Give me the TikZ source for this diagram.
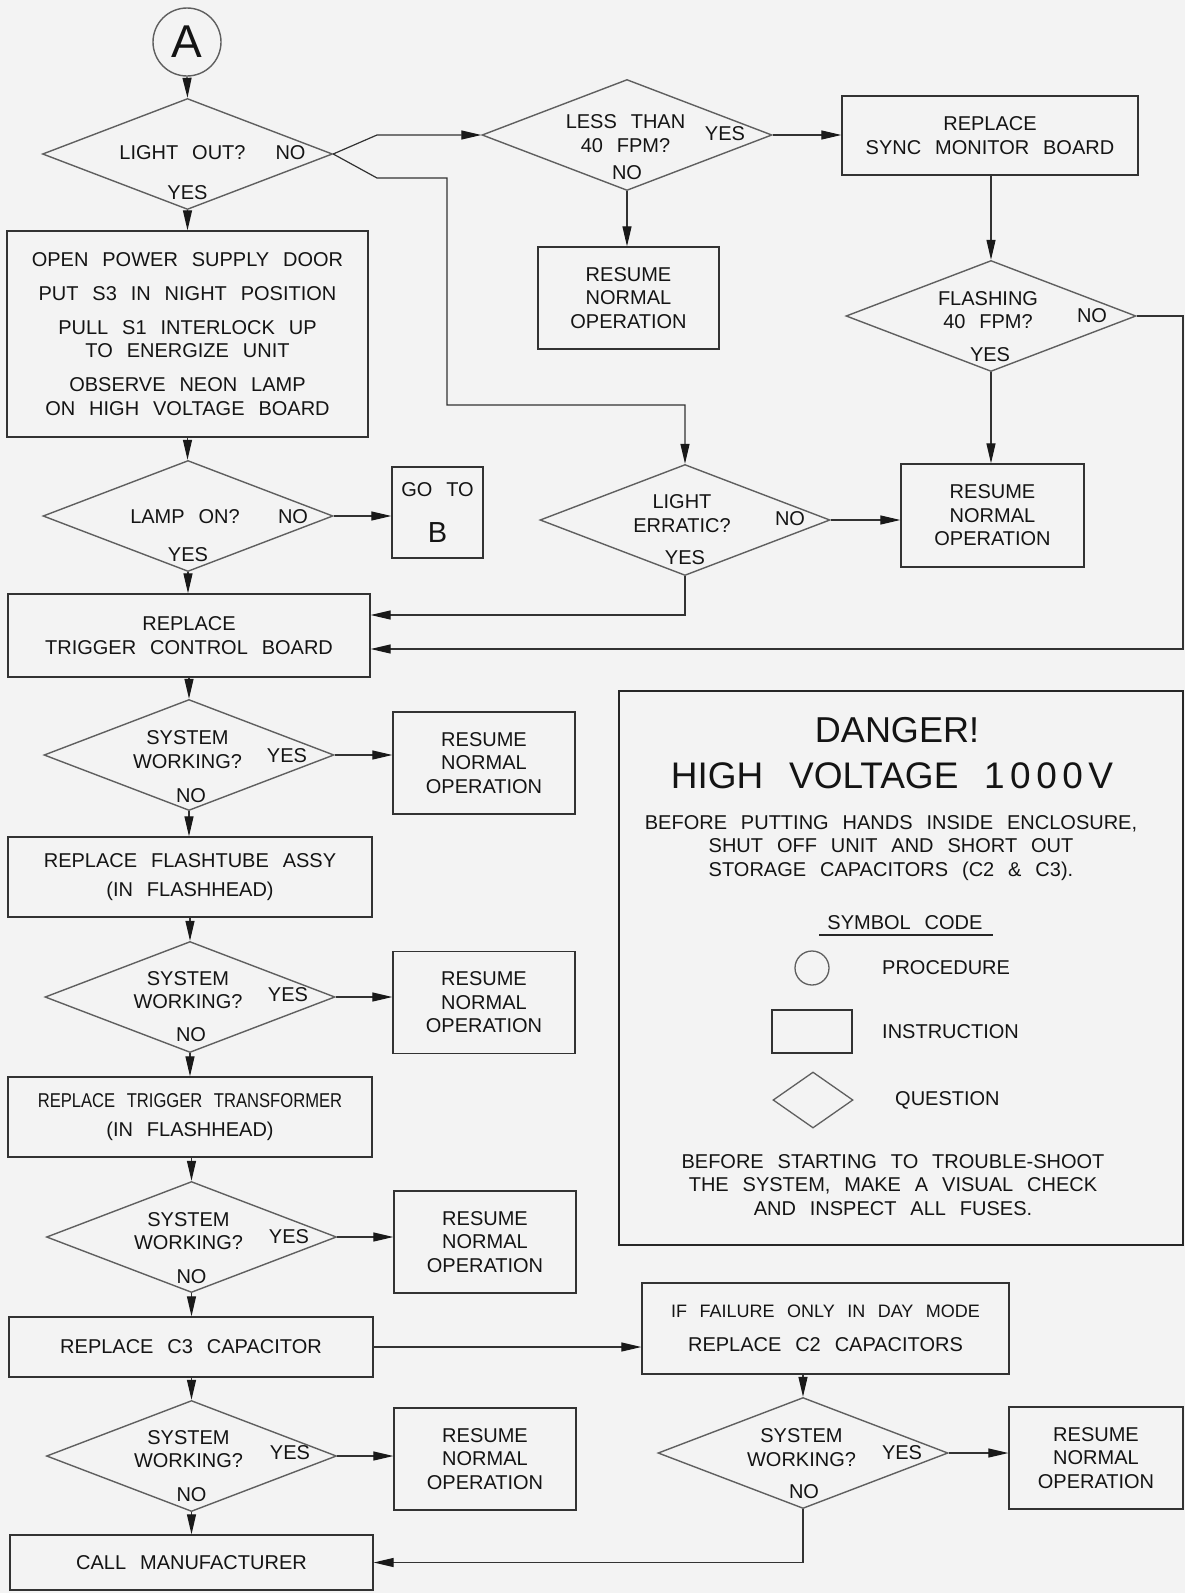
\documentclass[tikz,border=0pt]{standalone}
\usepackage{fontspec}
\setmainfont{Liberation Sans}[WordSpace=2.5]
\usepackage{graphicx}
\usetikzlibrary{shapes.geometric,arrows.meta}
\definecolor{bgc}{RGB}{243,243,243}
\definecolor{lnc}{RGB}{50,50,50}
\definecolor{dmc}{RGB}{95,95,95}
\definecolor{txc}{RGB}{20,20,20}
\begin{document}
\begin{tikzpicture}[x=1pt,y=-1pt,
  every node/.style={text=txc,font=\fontsize{20}{23.5}\selectfont,inner sep=0pt},
  box/.style={draw=lnc,line width=1.3pt,rectangle,align=center},
  ques/.style={draw=dmc,line width=1.4pt,diamond,minimum width=290pt,minimum height=111pt},
  lab/.style={align=center},
  arr/.style={draw=lnc,line width=1.2pt,-{Triangle[length=20pt,width=9pt,color=black!90]}},
  resume/.style={box,minimum width=182pt,minimum height=102pt}]
\useasboundingbox (0,0) rectangle (1185,1593);
\fill[bgc] (0,0) rectangle (1185,1593);

% ---------- left column ----------
\node[draw=dmc,line width=1.4pt,circle,minimum size=68pt,font=\fontsize{46}{46}\selectfont] (A) at (187,42) {A};

\node[ques] (D1) at (187.5,154) {};
\node[lab] at ([shift={(-5,-1)}]D1.center) {LIGHT OUT?};
\node[lab] at ([shift={(103,-1)}]D1.center) {NO};
\node[lab] at ([shift={(0,39)}]D1.center) {YES};

\node[box,minimum width=361pt,minimum height=206pt] (B1) at (187.5,334)
  {OPEN POWER SUPPLY DOOR\\[10.5pt]PUT S3 IN NIGHT POSITION\\[10.5pt]PULL S1 INTERLOCK UP\\TO ENERGIZE UNIT\\[10.5pt]OBSERVE NEON LAMP\\ON HIGH VOLTAGE BOARD};

\node[ques] (LP) at (188,516) {};
\node[lab] at ([shift={(-3,1)}]LP.center) {LAMP ON?};
\node[lab] at ([shift={(105,1)}]LP.center) {NO};
\node[lab] at ([shift={(0,39)}]LP.center) {YES};

\node[box,minimum width=91pt,minimum height=91pt] (GB) at (437.5,512.5)
  {GO TO\\[23pt]{\fontsize{29}{29}\selectfont B}};

\node[box,minimum width=362pt,minimum height=83pt] (TC) at (189,635.5)
  {REPLACE\\TRIGGER CONTROL BOARD};

\node[ques] (S1) at (189,755) {};
\node[lab] at ([shift={(-1.5,-5.5)}]S1.center) {SYSTEM\\WORKING?};
\node[lab] at ([shift={(98,1)}]S1.center) {YES};
\node[lab] at ([shift={(2,41)}]S1.center) {NO};
\node[resume] (R3) at (484,763) {RESUME\\NORMAL\\OPERATION};

\node[box,minimum width=364pt,minimum height=80pt] (FT) at (190,877)
  {REPLACE FLASHTUBE ASSY\\[5.5pt](IN FLASHHEAD)};

\node[ques] (S2) at (190,997) {};
\node[lab] at ([shift={(-2,-7)}]S2.center) {SYSTEM\\WORKING?};
\node[lab] at ([shift={(98,-2)}]S2.center) {YES};
\node[lab] at ([shift={(1,38)}]S2.center) {NO};
\node[resume] (R4) at (484,1002.5) {RESUME\\NORMAL\\OPERATION};

\node[box,minimum width=364pt,minimum height=80pt] (TT) at (190,1117)
  {\scalebox{0.83}[1]{REPLACE TRIGGER TRANSFORMER}\\[5.5pt](IN FLASHHEAD)};

\node[ques] (S3) at (191.5,1237) {};
\node[lab] at ([shift={(-3,-6)}]S3.center) {SYSTEM\\WORKING?};
\node[lab] at ([shift={(97.5,0)}]S3.center) {YES};
\node[lab] at ([shift={(0,40)}]S3.center) {NO};
\node[resume] (R5) at (485,1242) {RESUME\\NORMAL\\OPERATION};

\node[box,minimum width=364pt,minimum height=60pt] (C3) at (191,1347) {REPLACE C3 CAPACITOR};

\node[ques] (S4) at (191.5,1456) {};
\node[lab] at ([shift={(-3,-7)}]S4.center) {SYSTEM\\WORKING?};
\node[lab] at ([shift={(98.5,-3)}]S4.center) {YES};
\node[lab] at ([shift={(0,39)}]S4.center) {NO};
\node[resume] (R6) at (485,1459) {RESUME\\NORMAL\\OPERATION};

\node[box,minimum width=363pt,minimum height=55pt] (CM) at (191.5,1562.5) {CALL MANUFACTURER};

% ---------- right part ----------
\node[ques] (LT) at (627,135) {};
\node[lab] at ([shift={(-1.5,-1.5)}]LT.center) {LESS THAN\\40 FPM?};
\node[lab] at ([shift={(98,-1)}]LT.center) {YES};
\node[lab] at ([shift={(0,38)}]LT.center) {NO};
\node[resume,minimum width=181pt] (R1) at (628.5,298) {RESUME\\NORMAL\\OPERATION};

\node[box,minimum width=296pt,minimum height=79pt] (SM) at (990,135.5) {REPLACE\\SYNC MONITOR BOARD};

\node[ques] (FL) at (991,316) {};
\node[lab] at ([shift={(-3,-6)}]FL.center) {FLASHING\\40 FPM?};
\node[lab] at ([shift={(101,0)}]FL.center) {NO};
\node[lab] at ([shift={(-1,39)}]FL.center) {YES};
\node[resume,minimum width=183pt,minimum height=103pt] (R2) at (992.5,515.5) {RESUME\\NORMAL\\OPERATION};

\node[ques] (LE) at (685,520) {};
\node[lab] at ([shift={(-3,-6.5)}]LE.center) {LIGHT\\ERRATIC?};
\node[lab] at ([shift={(105,-1)}]LE.center) {NO};
\node[lab] at ([shift={(0,38)}]LE.center) {YES};

\node[box,minimum width=367pt,minimum height=91pt] (C2) at (825.5,1328.5)
  {{\fontsize{18}{23.5}\selectfont IF FAILURE ONLY IN DAY MODE}\\[11pt]REPLACE C2 CAPACITORS};

\node[ques] (S5) at (803,1453) {};
\node[lab] at ([shift={(-1.5,-5.5)}]S5.center) {SYSTEM\\WORKING?};
\node[lab] at ([shift={(99,0)}]S5.center) {YES};
\node[lab] at ([shift={(1,39)}]S5.center) {NO};
\node[resume,minimum width=174pt] (R7) at (1096,1458) {RESUME\\NORMAL\\OPERATION};

% ---------- connectors ----------
\draw[arr] (A.south) -- (D1.north);
\draw[arr] (D1.south) -- (D1.south |- B1.north);
\draw[arr] (B1.south) -- (B1.south |- LP.north);
\draw[arr] (LP.east) -- (LP.east -| GB.west);
\draw[arr] (LP.south) -- (LP.south |- TC.north);
\draw[arr] (S1.north |- TC.south) -- (S1.north);
\draw[arr] (S1.east) -- (S1.east -| R3.west);
\draw[arr] (S1.south) -- (S1.south |- FT.north);
\draw[arr] (S2.north |- FT.south) -- (S2.north);
\draw[arr] (S2.east) -- (S2.east -| R4.west);
\draw[arr] (S2.south) -- (S2.south |- TT.north);
\draw[arr] (S3.north |- TT.south) -- (S3.north);
\draw[arr] (S3.east) -- (S3.east -| R5.west);
\draw[arr] (S3.south) -- (S3.south |- C3.north);
\draw[arr] (S4.north |- C3.south) -- (S4.north);
\draw[arr] (S4.east) -- (S4.east -| R6.west);
\draw[arr] (S4.south) -- (S4.south |- CM.north);
\draw[arr] (C3.east) -- (C3.east -| C2.west);
\draw[arr] (S5.north |- C2.south) -- (S5.north);
\draw[arr] (S5.east) -- (S5.east -| R7.west);
\draw[arr] (S5.south) |- (CM.east);

\coordinate (k1) at (377,135);
\coordinate (k2) at (377,178);
\coordinate (k3) at (447,405);
\draw[arr] (D1.east) -- (k1) -- (LT.west);
\draw[arr] (D1.east) -- (k2) -| (k3) -| (LE.north);
\draw[arr] (LT.east) -- (LT.east -| SM.west);
\draw[arr] (LT.south) -- (LT.south |- R1.north);
\draw[arr] (FL.north |- SM.south) -- (FL.north);
\draw[arr] (FL.south) -- (FL.south |- R2.north);
\draw[arr] (LE.east) -- (LE.east -| R2.west);
\coordinate (j1) at (685,615);
\draw[arr] (LE.south) -- (j1) -- (j1 -| TC.east);
\coordinate (j2) at (1183,649);
\draw[arr] (FL.east) -| (j2) -- (j2 -| TC.east);

% ---------- danger panel ----------
\node[draw=black!85,line width=1.8pt,minimum width=564pt,minimum height=554pt] (DG) at (901,968) {};
\node[font=\fontsize{36}{36}\selectfont] (dg1) at (897,730) {DANGER!};
\node[font=\fontsize{37}{37}\selectfont] (dg2) at (892,776) {HIGH VOLTAGE 1\kern5.5pt0\kern5.5pt0\kern5.5pt0\kern5.5ptV};
\node[align=center] (dg3) at (891,848) {BEFORE PUTTING HANDS INSIDE ENCLOSURE,\\SHUT OFF UNIT AND SHORT OUT\\STORAGE CAPACITORS (C2 \& C3).};
\node (sc) at (905,923) {SYMBOL CODE};
\draw[black!85,line width=1.3pt] (819,935) -- (993,935);
\node[draw=dmc,line width=1.3pt,circle,minimum size=34pt] (lc) at (812,968) {};
\node[anchor=west] (lct) at (882,968) {PROCEDURE};
\node[draw=lnc,line width=1.3pt,minimum width=80pt,minimum height=43pt] (lr) at (812,1031.5) {};
\node[anchor=west] (lrt) at (882,1032) {INSTRUCTION};
\node[draw=dmc,line width=1.3pt,diamond,minimum width=80pt,minimum height=56pt] (ld) at (813,1100) {};
\node[anchor=west] (ldt) at (895,1100) {QUESTION};
\node[align=center] (dg4) at (893,1185) {BEFORE STARTING TO TROUBLE-SHOOT\\THE SYSTEM, MAKE A VISUAL CHECK\\AND INSPECT ALL FUSES.};
\end{tikzpicture}
\end{document}
